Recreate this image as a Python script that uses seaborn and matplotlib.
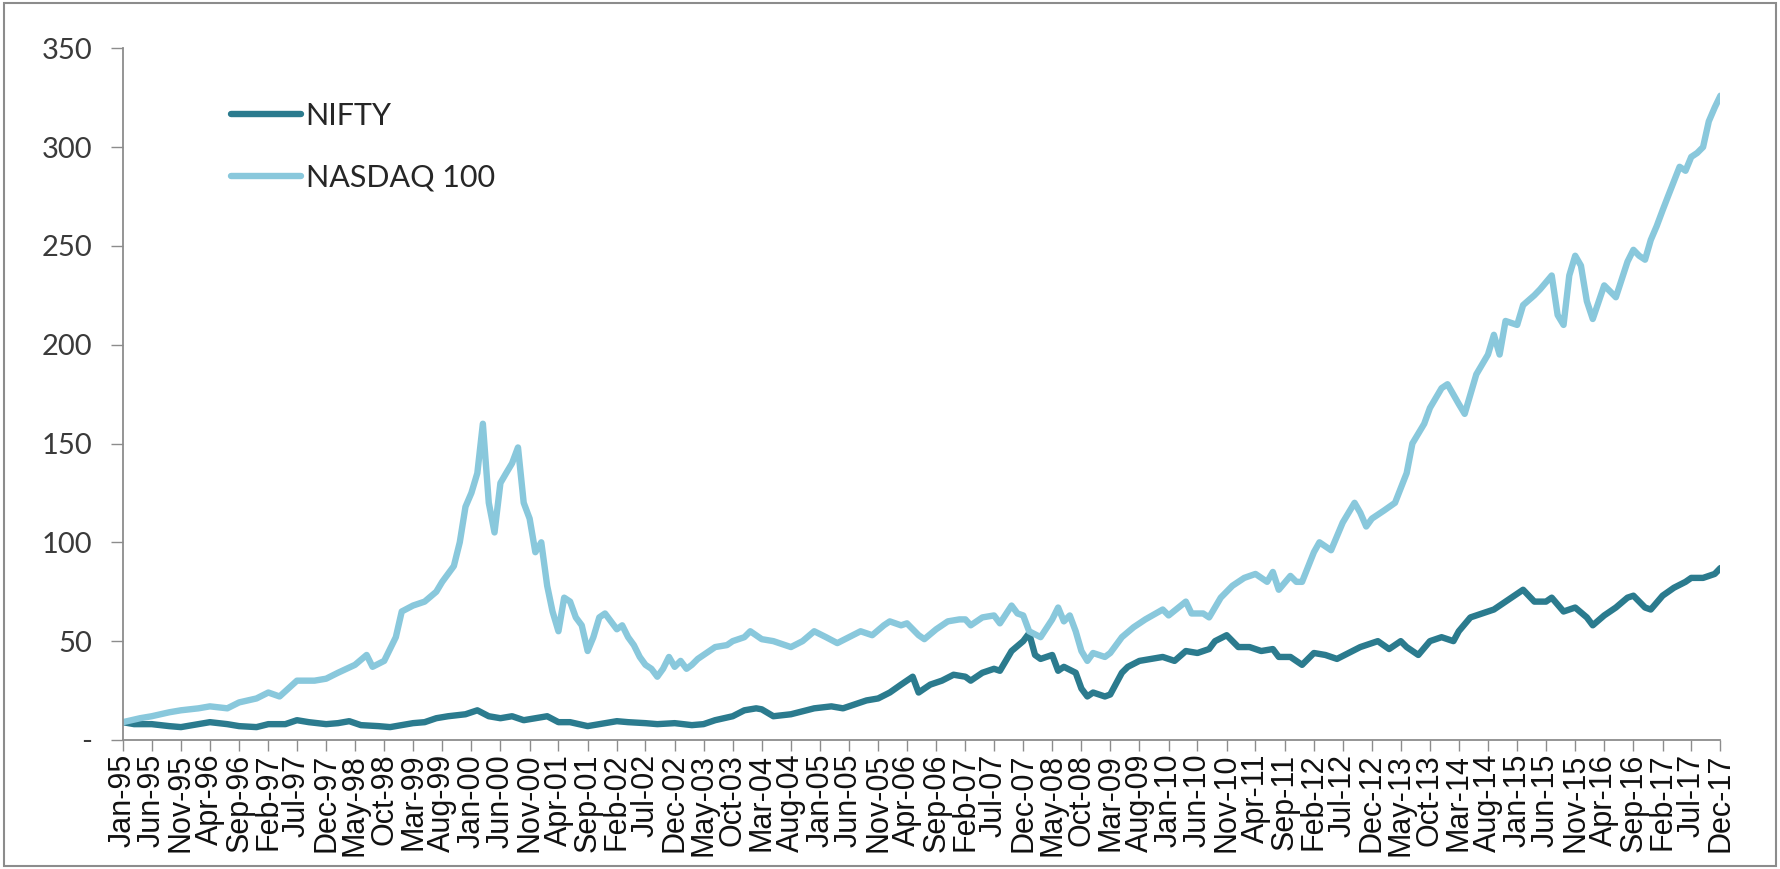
import pandas as pd
import matplotlib.pyplot as plt
import matplotlib.dates as mdates
from matplotlib.patches import Rectangle
import seaborn as sns


# ==========================================
# DATA
# ==========================================

nasdaq_dates = [
    "1995-01", "1995-04", "1995-06", "1995-09", "1995-11", "1996-02",
    "1996-04", "1996-07", "1996-09", "1996-12", "1997-02", "1997-04",
    "1997-07", "1997-10", "1997-12", "1998-02", "1998-05", "1998-07",
    "1998-08", "1998-10", "1998-12", "1999-01", "1999-03", "1999-05",
    "1999-07", "1999-08", "1999-10", "1999-11", "1999-12", "2000-01",
    "2000-02", "2000-03", "2000-04", "2000-05", "2000-06", "2000-07",
    "2000-08", "2000-09", "2000-10", "2000-11", "2000-12", "2001-01",
    "2001-02", "2001-03", "2001-04", "2001-05", "2001-06", "2001-07",
    "2001-08", "2001-09", "2001-10", "2001-11", "2001-12", "2002-01",
    "2002-02", "2002-03", "2002-04", "2002-05", "2002-06", "2002-07",
    "2002-08", "2002-09", "2002-10", "2002-11", "2002-12", "2003-01",
    "2003-02", "2003-03", "2003-04", "2003-05", "2003-07", "2003-09",
    "2003-10", "2003-12", "2004-01", "2004-03", "2004-05", "2004-08",
    "2004-10", "2004-12", "2005-02", "2005-04", "2005-06", "2005-08",
    "2005-10", "2005-12", "2006-01", "2006-03", "2006-04", "2006-06",
    "2006-07", "2006-09", "2006-11", "2007-01", "2007-02", "2007-03",
    "2007-05", "2007-07", "2007-08", "2007-10", "2007-11", "2007-12",
    "2008-01", "2008-03", "2008-05", "2008-06", "2008-07", "2008-08",
    "2008-09", "2008-10", "2008-11", "2008-12", "2009-02", "2009-03",
    "2009-05", "2009-07", "2009-09", "2009-12", "2010-01", "2010-04",
    "2010-05", "2010-07", "2010-08", "2010-10", "2010-12", "2011-02",
    "2011-04", "2011-06", "2011-07", "2011-08", "2011-10", "2011-11",
    "2011-12", "2012-02", "2012-03", "2012-05", "2012-07", "2012-09",
    "2012-10", "2012-11", "2012-12", "2013-02", "2013-04", "2013-06",
    "2013-07", "2013-09", "2013-10", "2013-12", "2014-01", "2014-03",
    "2014-04", "2014-06", "2014-08", "2014-09", "2014-10", "2014-11",
    "2015-01", "2015-02", "2015-04", "2015-05", "2015-07", "2015-08",
    "2015-09", "2015-10", "2015-11", "2015-12", "2016-01", "2016-02",
    "2016-04", "2016-06", "2016-08", "2016-09", "2016-10", "2016-11",
    "2016-12", "2017-01", "2017-02", "2017-03", "2017-05", "2017-06",
    "2017-07", "2017-08", "2017-09", "2017-10", "2017-11", "2017-12"
]

nasdaq_values = [
    9, 11, 12, 14, 15, 16,
    17, 16, 19, 21, 24, 22,
    30, 30, 31, 34, 38, 43,
    37, 40, 52, 65, 68, 70,
    75, 80, 88, 100, 118, 125,
    135, 160, 120, 105, 130, 135,
    140, 148, 120, 112, 95, 100,
    78, 65, 55, 72, 70, 62,
    58, 45, 52, 62, 64, 60,
    56, 58, 52, 48, 42, 38,
    36, 32, 36, 42, 37, 40,
    36, 38, 41, 43, 47, 48,
    50, 52, 55, 51, 50, 47,
    50, 55, 52, 49, 52, 55,
    53, 58, 60, 58, 59, 53,
    51, 56, 60, 61, 61, 58,
    62, 63, 59, 68, 64, 63,
    55, 52, 61, 67, 60, 63,
    55, 45, 40, 44, 42, 44,
    52, 57, 61, 66, 63, 70,
    64, 64, 62, 72, 78, 82,
    84, 80, 85, 76, 83, 80,
    80, 95, 100, 96, 110, 120,
    115, 108, 112, 116, 120, 135,
    150, 160, 168, 178, 180, 170,
    165, 185, 195, 205, 195, 212,
    210, 220, 225, 228, 235, 215,
    210, 235, 245, 240, 222, 213,
    230, 224, 242, 248, 245, 243,
    253, 260, 268, 275, 290, 288,
    295, 297, 300, 313, 320, 326
]

nifty_dates = [
    "1995-01", "1995-03", "1995-06", "1995-09", "1995-11", "1996-02",
    "1996-04", "1996-07", "1996-09", "1996-12", "1997-02", "1997-05",
    "1997-07", "1997-09", "1997-12", "1998-02", "1998-04", "1998-06",
    "1998-09", "1998-11", "1999-01", "1999-03", "1999-05", "1999-07",
    "1999-09", "1999-12", "2000-02", "2000-04", "2000-06", "2000-08",
    "2000-10", "2000-12", "2001-02", "2001-04", "2001-06", "2001-09",
    "2001-11", "2002-02", "2002-04", "2002-07", "2002-09", "2002-12",
    "2003-03", "2003-05", "2003-07", "2003-10", "2003-12", "2004-02",
    "2004-03", "2004-05", "2004-08", "2004-10", "2004-12", "2005-03",
    "2005-05", "2005-07", "2005-09", "2005-11", "2006-01", "2006-03",
    "2006-05", "2006-06", "2006-08", "2006-10", "2006-12", "2007-02",
    "2007-03", "2007-05", "2007-07", "2007-08", "2007-10", "2007-12",
    "2008-01", "2008-02", "2008-03", "2008-05", "2008-06", "2008-07",
    "2008-09", "2008-10", "2008-11", "2008-12", "2009-02", "2009-03",
    "2009-05", "2009-06", "2009-08", "2009-10", "2009-12", "2010-02",
    "2010-04", "2010-06", "2010-08", "2010-09", "2010-11", "2011-01",
    "2011-03", "2011-05", "2011-07", "2011-08", "2011-10", "2011-12",
    "2012-02", "2012-04", "2012-06", "2012-08", "2012-10", "2012-12",
    "2013-01", "2013-03", "2013-05", "2013-06", "2013-08", "2013-10",
    "2013-12", "2014-02", "2014-03", "2014-05", "2014-07", "2014-09",
    "2014-11", "2015-01", "2015-02", "2015-04", "2015-06", "2015-07",
    "2015-09", "2015-11", "2016-01", "2016-02", "2016-04", "2016-06",
    "2016-08", "2016-09", "2016-11", "2016-12", "2017-02", "2017-04",
    "2017-06", "2017-07", "2017-09", "2017-11", "2017-12"
]

nifty_values = [
    9, 8, 8, 7, 6.5, 8,
    9, 8, 7, 6.5, 8, 8,
    10, 9, 8, 8.5, 9.5, 7.5,
    7, 6.5, 7.5, 8.5, 9, 11,
    12, 13, 15, 12, 11, 12,
    10, 11, 12, 9, 9, 7,
    8, 9.5, 9, 8.5, 8, 8.5,
    7.5, 8, 10, 12, 15, 16,
    15.5, 12, 13, 14.5, 16, 17,
    16, 18, 20, 21, 24, 28,
    32, 24, 28, 30, 33, 32,
    30, 34, 36, 35, 45, 50,
    54, 43, 41, 43, 35, 37,
    34, 26, 22, 24, 22, 23,
    34, 37, 40, 41, 42, 40,
    45, 44, 46, 50, 53, 47,
    47, 45, 46, 42, 42, 38,
    44, 43, 41, 44, 47, 49,
    50, 46, 50, 47, 43, 50,
    52, 50, 55, 62, 64, 66,
    70, 74, 76, 70, 70, 72,
    65, 67, 62, 58, 63, 67,
    72, 73, 67, 66, 73, 77,
    80, 82, 82, 84, 87
]

series_names = ["NIFTY", "NASDAQ 100"]

series_colors = ["#2B7B8E", "#89C8DC"]

y_ticks = [0, 50, 100, 150, 200, 250, 300, 350]

y_tick_labels = ["-", "50", "100", "150", "200", "250", "300", "350"]


# ==========================================
# BUILD LONG TABLE
# ==========================================

nifty_frame = pd.DataFrame({
    "date": pd.to_datetime(nifty_dates),
    "value": nifty_values,
    "index": series_names[0]
})

nasdaq_frame = pd.DataFrame({
    "date": pd.to_datetime(nasdaq_dates),
    "value": nasdaq_values,
    "index": series_names[1]
})

dataframe = pd.concat(
    [nifty_frame, nasdaq_frame],
    ignore_index=True
)


# ==========================================
# PLOT
# ==========================================

sns.set_style("white")

plt.rcParams["font.family"] = ["Liberation Sans", "DejaVu Sans"]

fig = plt.figure(figsize=(17.81, 8.69), dpi=100)

ax = fig.add_axes([0.069, 0.1485, 0.897, 0.796])

sns.lineplot(
    data=dataframe,
    x="date",
    y="value",
    hue="index",
    hue_order=series_names,
    palette=series_colors,
    linewidth=4.6,
    ax=ax
)

start = pd.Timestamp("1995-01-01")
end = pd.Timestamp("2017-12-01")

ax.set_xlim(start, end)
ax.set_ylim(0, 350)

tick_dates = pd.date_range(start, end, freq="5MS")

ax.set_xticks(tick_dates)
ax.xaxis.set_major_formatter(mdates.DateFormatter("%b-%y"))

ax.set_yticks(y_ticks)
ax.set_yticklabels(y_tick_labels)

ax.tick_params(
    axis="x",
    labelrotation=90,
    labelsize=22,
    length=8,
    width=1,
    color="#8c8c8c",
    direction="out",
    bottom=True,
    labelcolor="#111111",
    pad=2
)

ax.tick_params(
    axis="y",
    labelsize=21,
    length=9,
    width=1,
    color="#8c8c8c",
    direction="out",
    left=True,
    labelcolor="#3a3a3a",
    pad=13
)

for label in ax.get_yticklabels():
    label.set_fontfamily(["Lato", "DejaVu Sans"])

ax.set_xlabel("")
ax.set_ylabel("")

for side in ["top", "right"]:
    ax.spines[side].set_visible(False)

for side in ["left", "bottom"]:
    ax.spines[side].set_color("#8c8c8c")
    ax.spines[side].set_linewidth(1.3)

legend = ax.legend(
    loc="upper left",
    bbox_to_anchor=(0.0676, 0.922),
    borderpad=0,
    borderaxespad=0,
    frameon=False,
    fontsize=22,
    handlelength=2.3,
    handletextpad=0.15,
    labelspacing=1.1
)

for handle in legend.get_lines():
    handle.set_linewidth(4.6)

for text in legend.get_texts():
    text.set_fontfamily(["Lato", "DejaVu Sans"])

# outer chart border
fig.patches.append(
    Rectangle(
        (0.002, 0.004),
        0.995,
        0.992,
        transform=fig.transFigure,
        fill=False,
        edgecolor="#8c8c8c",
        linewidth=1.5
    )
)

fig.savefig("out.png", dpi=100)

plt.close(fig)
